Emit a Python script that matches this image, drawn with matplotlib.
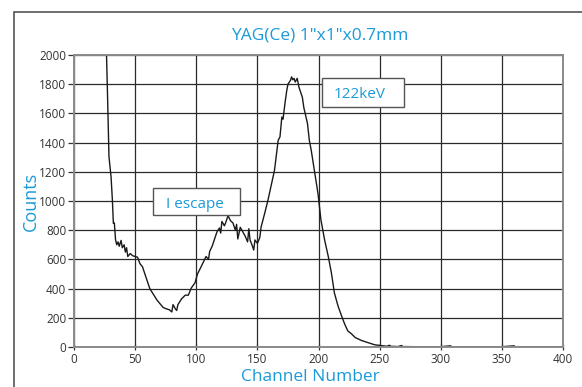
import matplotlib.pyplot as plt
from matplotlib.patches import Rectangle

# spectrum (channel, counts)
channel = [26, 27, 27.5, 28.6, 30.3, 31.4, 32.2, 33, 34, 35, 36, 37, 38.5, 39.5, 41, 42, 43, 44, 45,
           46, 48, 50, 52, 54, 56, 58, 60, 62, 65, 68, 70, 73, 76, 78, 80, 81, 83, 84, 85,
           88, 91, 93.5, 96, 99, 101, 104, 108, 110, 111, 113, 115, 117, 119, 120, 121, 123,
           124, 126, 128, 130, 132, 133, 134, 136, 138, 140, 142, 143, 144, 146, 147, 148,
           150, 152, 153, 155.8, 158.5, 161, 164, 167, 168.5, 170, 171, 172.5, 174, 175,
           177, 178, 179, 180, 181, 182.6, 184, 186.8, 188, 191, 192.5, 194, 197, 199.6,
           202, 205, 208, 210.6, 213, 216, 219, 221.5, 224, 227, 230, 235, 240.6, 246,
           251, 256, 258, 259, 265, 268, 269, 280, 300, 308, 309, 330, 350, 360, 361, 380, 400]
counts = [2200, 1875, 1700, 1303, 1166, 1007, 847, 850, 733, 700, 720, 690, 730, 680, 700, 650, 680, 620, 630,
          640, 625, 620, 615, 570, 550, 500, 450, 400, 360, 320, 300, 270, 260, 255, 240, 290, 260, 250, 290,
          330, 355, 355, 405, 440, 500, 550, 620, 600, 655, 690, 740, 790, 815, 780, 860, 830,
          850, 900, 865, 850, 800, 840, 740, 820, 790, 760, 720, 810, 733, 690, 664, 733,
          710, 750, 820, 910, 1000, 1095, 1210, 1415, 1440, 1575, 1560, 1665, 1755, 1800,
          1825, 1850, 1830, 1840, 1815, 1840, 1780, 1710, 1640, 1530, 1415, 1350, 1190, 1050,
          870, 733, 620, 505, 370, 280, 210, 155, 110, 90, 65, 45, 30, 15,
          10, 5, 12, 5, 3, 10, 3, 2, 2, 8, 2, 2, 2, 8, 2, 2, 2]

x_ticks = [0, 50, 100, 150, 200, 250, 300, 350, 400]
y_ticks = [0, 200, 400, 600, 800, 1000, 1200, 1400, 1600, 1800, 2000]

blue = '#1b9ad8'
plt.rcParams['font.family'] = ['Open Sans', 'DejaVu Sans']

fig = plt.figure(figsize=(5.82, 3.87), dpi=100)
ax = fig.add_axes([74 / 582, 1 - 347 / 387, 489 / 582, 292 / 387])

# outer frame, cut off at right and bottom
fig.patches.append(Rectangle((14 / 582, -0.05), 1.1, 1 - 12 / 387 + 0.05,
                             transform=fig.transFigure, fill=False,
                             edgecolor='#555555', linewidth=1.2))

ax.plot(channel, counts, color='#1a1a1a', linewidth=1.0)

ax.set_xlim(0, 400)
ax.set_ylim(0, 2000)
ax.set_xticks(x_ticks)
ax.set_yticks(y_ticks)
ax.grid(True, color='#2a2a2a', linewidth=0.9)
ax.set_axisbelow(True)
ax.tick_params(labelsize=8.5, colors='#333333', length=4, width=0.9, pad=1.5)
ax.tick_params(axis='x', direction='inout', length=5)
for spine in ax.spines.values():
    spine.set_color('#8a8a8a')
    spine.set_linewidth(1.4)

fig.text(320 / 582, 1 - 36 / 387, 'YAG(Ce) 1"x1"x0.7mm', color=blue, fontsize=12.5,
         ha='center', va='center')
fig.text(31 / 582, 1 - 201 / 387, 'Counts', color=blue, fontsize=13,
         rotation=90, ha='center', va='center')
fig.text(310 / 582, 1 - 377 / 387, 'Channel Number', color=blue, fontsize=12.5,
         ha='center', va='center')

# annotation boxes
for x0, x1, y0, y1 in [(64.6, 135.8, 904, 1089), (202.9, 270, 1646, 1845)]:
    ax.add_patch(Rectangle((x0, y0), x1 - x0, y1 - y0, facecolor='white',
                           edgecolor='#555555', linewidth=1.0, zorder=3))
ax.text(99, 975, 'I escape', color=blue, fontsize=11, ha='center', va='center', zorder=4)
ax.text(234, 1730, '122keV', color=blue, fontsize=11, ha='center', va='center', zorder=4)

fig.savefig('out.png', dpi=100)
